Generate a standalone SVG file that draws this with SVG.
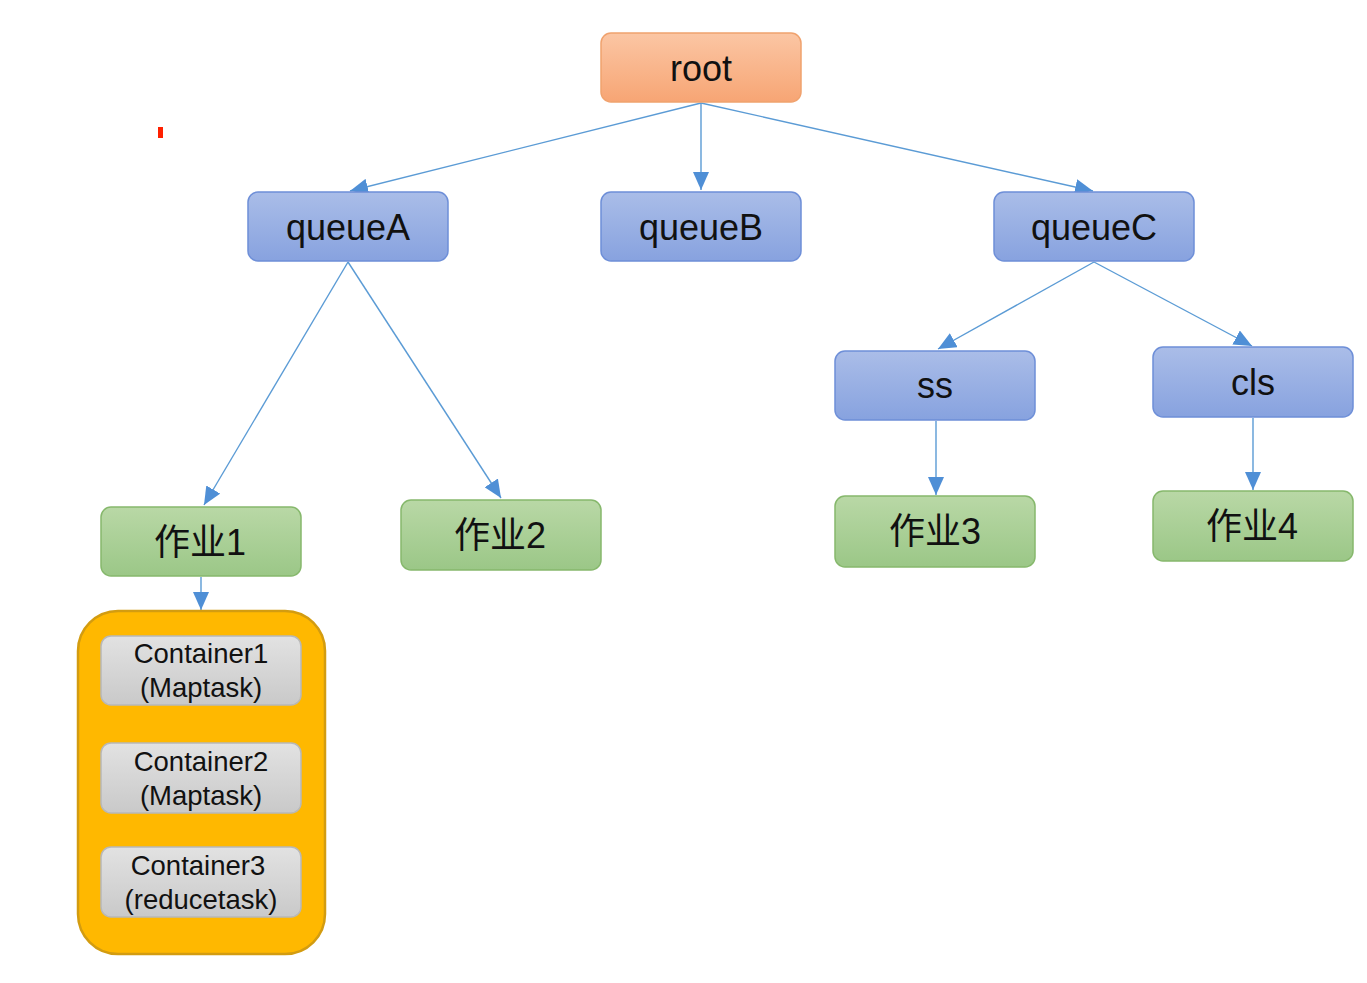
<svg xmlns="http://www.w3.org/2000/svg" width="1367" height="983" viewBox="0 0 1367 983">
<defs>
<linearGradient id="gOr" x1="0" y1="0" x2="0" y2="1"><stop offset="0" stop-color="#fbc6a4"/><stop offset="1" stop-color="#f7a574"/></linearGradient>
<linearGradient id="gBl" x1="0" y1="0" x2="0" y2="1"><stop offset="0" stop-color="#aabde8"/><stop offset="1" stop-color="#87a2df"/></linearGradient>
<linearGradient id="gGr" x1="0" y1="0" x2="0" y2="1"><stop offset="0" stop-color="#b9d8a6"/><stop offset="1" stop-color="#9bc787"/></linearGradient>
<linearGradient id="gGy" x1="0" y1="0" x2="0" y2="1"><stop offset="0" stop-color="#e2e2e2"/><stop offset="1" stop-color="#c9c9c9"/></linearGradient>
<marker id="arr" markerUnits="userSpaceOnUse" markerWidth="20" markerHeight="16" refX="18" refY="8" orient="auto">
<path d="M0,0 L18,8 L0,16 Z" fill="#4f8fd6"/>
</marker>
<style>
.lbl{font-family:"Liberation Sans","Noto Sans CJK SC",sans-serif;fill:#111;text-anchor:middle;dominant-baseline:central}
.big{font-size:36px}
.sm{font-size:27.5px}
.or{fill:url(#gOr);stroke:#f0a26e;stroke-width:1.5}
.bl{fill:url(#gBl);stroke:#6e8fd8;stroke-width:1.5}
.gr{fill:url(#gGr);stroke:#86b86c;stroke-width:1.5}
.gy{fill:url(#gGy);stroke:#b8b8b8;stroke-width:1.5}
.cn{stroke:#5b9bd5;stroke-width:1.4;fill:none;marker-end:url(#arr)}
</style>
</defs>
<rect width="1367" height="983" fill="#ffffff"/>
<rect x="158" y="127" width="5" height="11" fill="#ff2000"/>
<g id="connectors">
<line class="cn" x1="701" y1="103" x2="350" y2="191"/>
<line class="cn" x1="701" y1="103" x2="701" y2="190"/>
<line class="cn" x1="701" y1="103" x2="1093" y2="191"/>
<line class="cn" x1="348" y1="262" x2="204" y2="505"/>
<line class="cn" x1="348" y1="262" x2="501" y2="498"/>
<line class="cn" x1="1094" y1="262" x2="938" y2="349"/>
<line class="cn" x1="1094" y1="262" x2="1252" y2="346"/>
<line class="cn" x1="936" y1="421" x2="936" y2="495"/>
<line class="cn" x1="1253" y1="418" x2="1253" y2="490"/>
<line class="cn" x1="201" y1="577" x2="201" y2="610"/>
</g>
<g id="root"><rect class="or" x="601" y="33" width="200" height="69" rx="10"/><text class="lbl big" x="701" y="68">root</text></g>
<g id="queueA"><rect class="bl" x="248" y="192" width="200" height="69" rx="10"/><text class="lbl big" x="348" y="227">queueA</text></g>
<g id="queueB"><rect class="bl" x="601" y="192" width="200" height="69" rx="10"/><text class="lbl big" x="701" y="227">queueB</text></g>
<g id="queueC"><rect class="bl" x="994" y="192" width="200" height="69" rx="10"/><text class="lbl big" x="1094" y="227">queueC</text></g>
<g id="ss"><rect class="bl" x="835" y="351" width="200" height="69" rx="10"/><text class="lbl big" x="935" y="385">ss</text></g>
<g id="cls"><rect class="bl" x="1153" y="347" width="200" height="70" rx="10"/><text class="lbl big" x="1253" y="382">cls</text></g>
<g id="job1"><rect class="gr" x="101" y="507" width="200" height="69" rx="10"/><text class="lbl big" x="200" y="542">作业1</text></g>
<g id="job2"><rect class="gr" x="401" y="500" width="200" height="70" rx="10"/><text class="lbl big" x="500" y="535">作业2</text></g>
<g id="job3"><rect class="gr" x="835" y="496" width="200" height="71" rx="10"/><text class="lbl big" x="935" y="531">作业3</text></g>
<g id="job4"><rect class="gr" x="1153" y="491" width="200" height="70" rx="10"/><text class="lbl big" x="1252" y="526">作业4</text></g>
<g id="containerGroup"><rect x="78" y="611" width="247" height="343" rx="40" fill="#ffb800" stroke="#d39c10" stroke-width="2.5"/></g>
<g id="container1"><rect class="gy" x="101" y="636" width="200" height="69" rx="10"/><text class="lbl sm" x="201" y="653">Container1</text><text class="lbl sm" x="201" y="687">(Maptask)</text></g>
<g id="container2"><rect class="gy" x="101" y="743" width="200" height="70" rx="10"/><text class="lbl sm" x="201" y="761">Container2</text><text class="lbl sm" x="201" y="795">(Maptask)</text></g>
<g id="container3"><rect class="gy" x="101" y="847" width="200" height="70" rx="10"/><text class="lbl sm" x="198" y="865">Container3</text><text class="lbl sm" x="201" y="899">(reducetask)</text></g>
</svg>
